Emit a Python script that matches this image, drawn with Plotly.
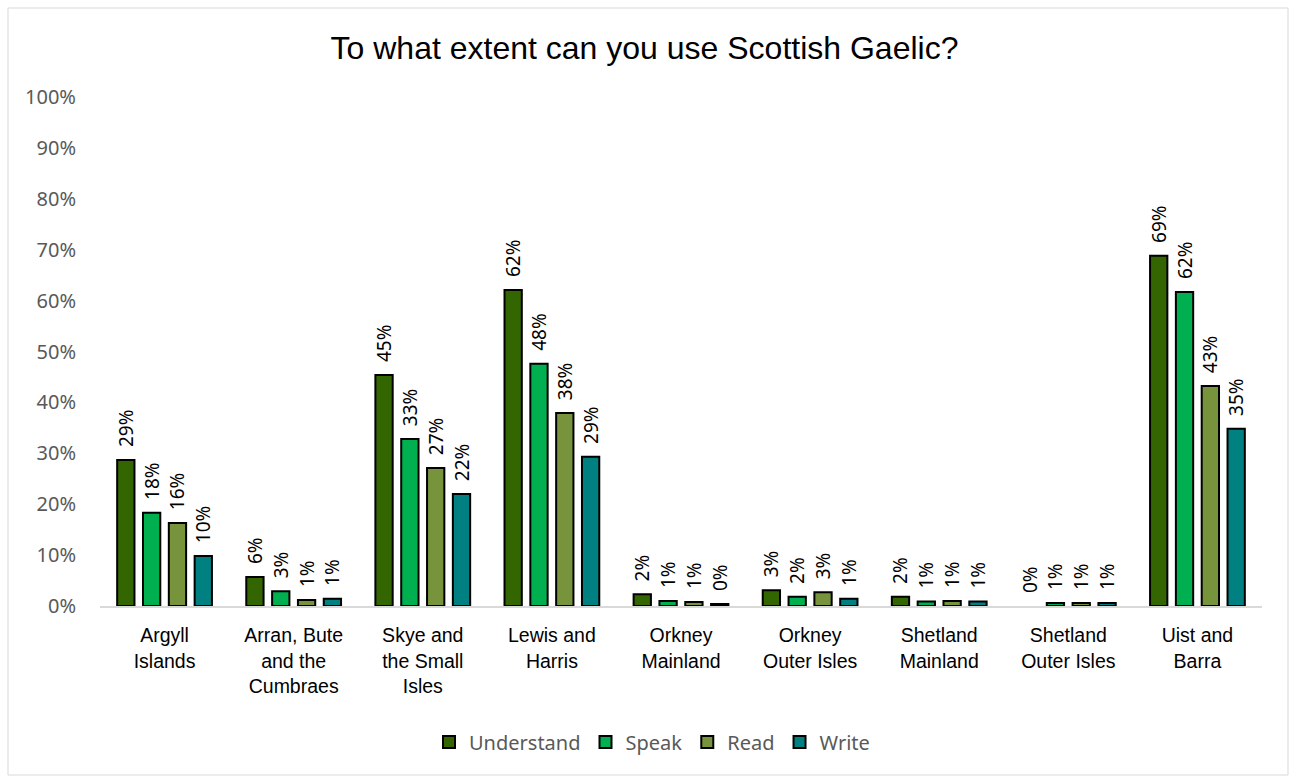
import plotly.graph_objects as go

# Island areas (line breaks as they appear under the axis)
areas = [
    "Argyll<br>Islands",
    "Arran, Bute<br>and the<br>Cumbraes",
    "Skye and<br>the Small<br>Isles",
    "Lewis and<br>Harris",
    "Orkney<br>Mainland",
    "Orkney<br>Outer Isles",
    "Shetland<br>Mainland",
    "Shetland<br>Outer Isles",
    "Uist and<br>Barra",
]

# Share of people able to use Scottish Gaelic, in percent
understand = [28.7, 5.7, 45.4, 62.1, 2.3, 3.1, 1.8, 0.0, 68.8]
speak = [18.3, 2.9, 32.8, 47.6, 1.0, 1.8, 0.9, 0.6, 61.7]
read = [16.3, 1.2, 27.1, 37.9, 0.8, 2.7, 1.0, 0.6, 43.2]
write = [9.8, 1.4, 22.0, 29.3, 0.4, 1.4, 0.9, 0.6, 34.8]

series = [
    ("Understand", understand, "#336600"),
    ("Speak", speak, "#00B050"),
    ("Read", read, "#77933C"),
    ("Write", write, "#008080"),
]

W, H = 1289, 776
L, R, T, B = 100, 27, 97, 170

LABEL_FONT = "Noto Sans, Open Sans, sans-serif"
ARIAL = "Liberation Sans, Arial, sans-serif"

fig = go.Figure()
for name, vals, color in series:
    fig.add_trace(go.Bar(
        name=name,
        x=areas,
        y=vals,
        marker=dict(
            color=color,
            # no outline on empty bars so a 0 value leaves no stroke on the axis
            line=dict(color="#000000", width=[0 if v == 0 else 2 for v in vals]),
        ),
        texttemplate="\u00a0\u00a0%{y:.0f}%",
        textposition="outside",
        textangle=-90,
        constraintext="none",
        textfont=dict(family=LABEL_FONT, size=19, color="#000000"),
        cliponaxis=False,
    ))

# outer frame of the chart area, expressed in paper units
pw, ph = W - L - R, H - T - B
def px_x(v):
    return (v - L) / pw
def px_y(v):
    return (H - B - v) / ph

fig.add_shape(
    type="rect", xref="paper", yref="paper",
    x0=px_x(8), x1=px_x(1288), y0=px_y(775), y1=px_y(8),
    line=dict(color="#D9D9D9", width=1), fillcolor="rgba(0,0,0,0)", layer="below",
)

fig.update_layout(
    width=W, height=H,
    margin=dict(l=L, r=R, t=T, b=B, autoexpand=False),
    paper_bgcolor="#FFFFFF",
    plot_bgcolor="#FFFFFF",
    barmode="group",
    bargap=0.2,
    bargroupgap=0.33,
    title=dict(
        text="To what extent can you use Scottish Gaelic?",
        x=0.5, xanchor="center",
        y=1 - 48 / H, yanchor="middle",
        font=dict(family=ARIAL, size=32, color="#000000"),
    ),
    xaxis=dict(
        showline=True, linecolor="#D9D9D9", linewidth=1.5,
        showgrid=False, ticks="",
        tickfont=dict(family=ARIAL, size=19.5, color="#000000"),
        ticklabelstandoff=11,
    ),
    yaxis=dict(
        range=[0, 100], dtick=10, ticksuffix="%",
        showgrid=False, zeroline=False, showline=False,
        tickfont=dict(family=LABEL_FONT, size=20, color="#595959"),
        ticklabelstandoff=23,
    ),
    legend=dict(
        orientation="h",
        x=px_x(652), xanchor="center",
        y=px_y(742), yanchor="middle",
        font=dict(family=LABEL_FONT, size=20, color="#595959"),
        itemwidth=30,
    ),
)

fig.write_html("out.html")
